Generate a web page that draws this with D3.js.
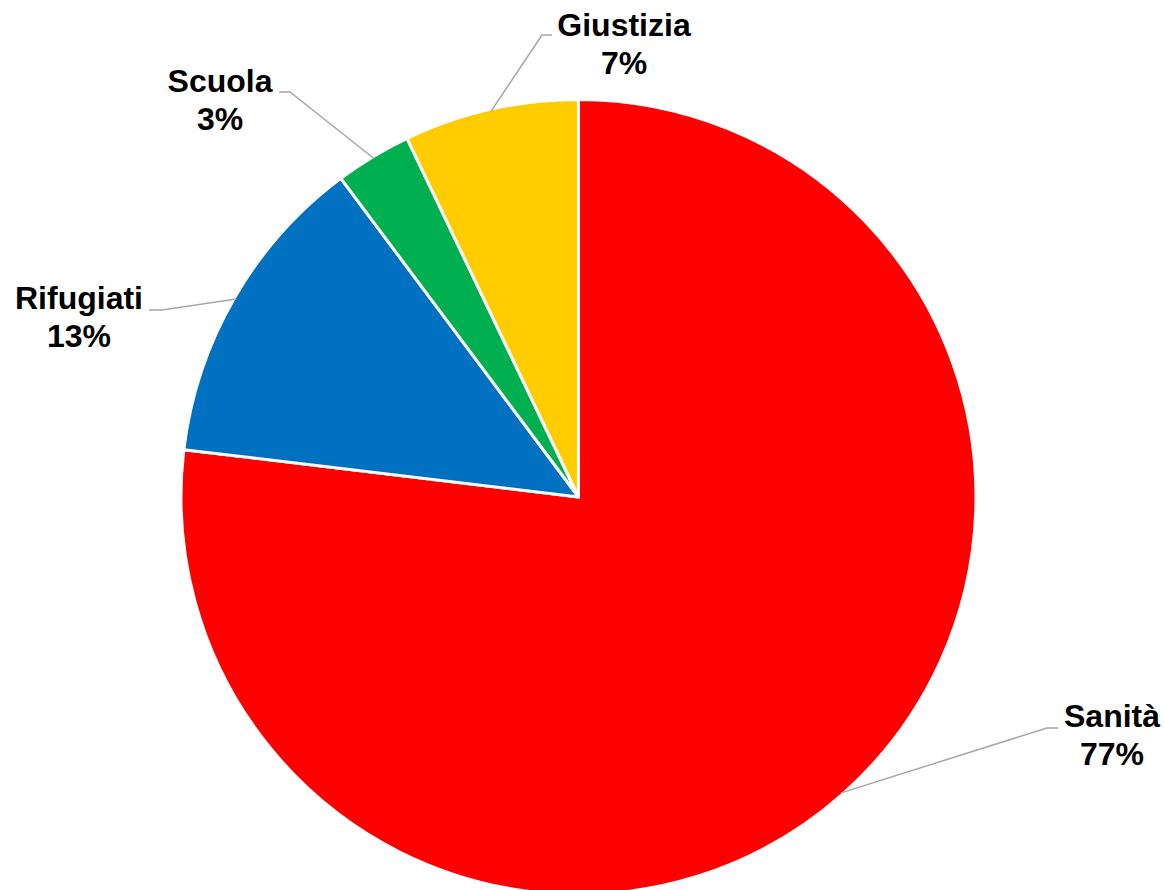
<!DOCTYPE html>
<html>
<head>
<meta charset="utf-8">
<script src="https://cdn.jsdelivr.net/npm/d3@7"></script>
<style>
  html, body { margin: 0; padding: 0; background: #fff; }
  svg { display: block; }
</style>
</head>
<body>
<script>
// Data
const categories = ["Sanità", "Rifugiati", "Scuola", "Giustizia"];
const values = [76.9, 12.9, 3.1, 7.1];
const percentLabels = ["77%", "13%", "3%", "7%"];
const colors = ["#FF0000", "#0070C0", "#00B050", "#FFCC00"];

// Layout (label centres and leader-line elbows)
const labelLayout = [
  { tx: 1112, ty: 727, elbow: [1047, 728], end: [1058, 728] },
  { tx: 79,   ty: 309, elbow: [162, 310],  end: [149, 310] },
  { tx: 220,  ty: 92,  elbow: [290, 92],   end: [279, 92] },
  { tx: 624,  ty: 36,  elbow: [542, 35],   end: [552, 35] }
];

const W = 1164, H = 890;
const cx = 578.5, cy = 497, R = 397.5;

const svg = d3.select("body").append("svg")
  .attr("width", W).attr("height", H);

const pie = d3.pie().sort(null).value(d => d).startAngle(0).endAngle(2 * Math.PI);
const arcs = pie(values);
const arc = d3.arc().innerRadius(0).outerRadius(R);

const g = svg.append("g").attr("transform", `translate(${cx},${cy})`);

g.selectAll("path.slice")
  .data(arcs)
  .join("path")
  .attr("class", "slice")
  .attr("d", arc)
  .attr("fill", (d, i) => colors[i])
  .attr("stroke", "#fff")
  .attr("stroke-width", 3)
  .attr("stroke-linejoin", "round");

// leader lines
svg.selectAll("polyline.leader")
  .data(arcs)
  .join("polyline")
  .attr("class", "leader")
  .attr("fill", "none")
  .attr("stroke", "#A6A6A6")
  .attr("stroke-width", 1.5)
  .attr("points", (d, i) => {
    const a = (d.startAngle + d.endAngle) / 2;
    const sx = cx + (R - 2) * Math.sin(a);
    const sy = cy - (R - 2) * Math.cos(a);
    const L = labelLayout[i];
    return [[sx, sy], L.elbow, L.end].map(p => p.join(",")).join(" ");
  });

// labels
const labels = svg.selectAll("text.lbl")
  .data(arcs)
  .join("text")
  .attr("class", "lbl")
  .attr("text-anchor", "middle")
  .attr("font-family", "Liberation Sans, Arial, sans-serif")
  .attr("font-weight", "bold")
  .attr("font-size", 32)
  .attr("fill", "#000");

labels.append("tspan")
  .attr("x", (d, i) => labelLayout[i].tx)
  .attr("y", (d, i) => labelLayout[i].ty)
  .text((d, i) => categories[i]);
labels.append("tspan")
  .attr("x", (d, i) => labelLayout[i].tx)
  .attr("y", (d, i) => labelLayout[i].ty + 37.5)
  .text((d, i) => percentLabels[i]);
</script>
</body>
</html>
